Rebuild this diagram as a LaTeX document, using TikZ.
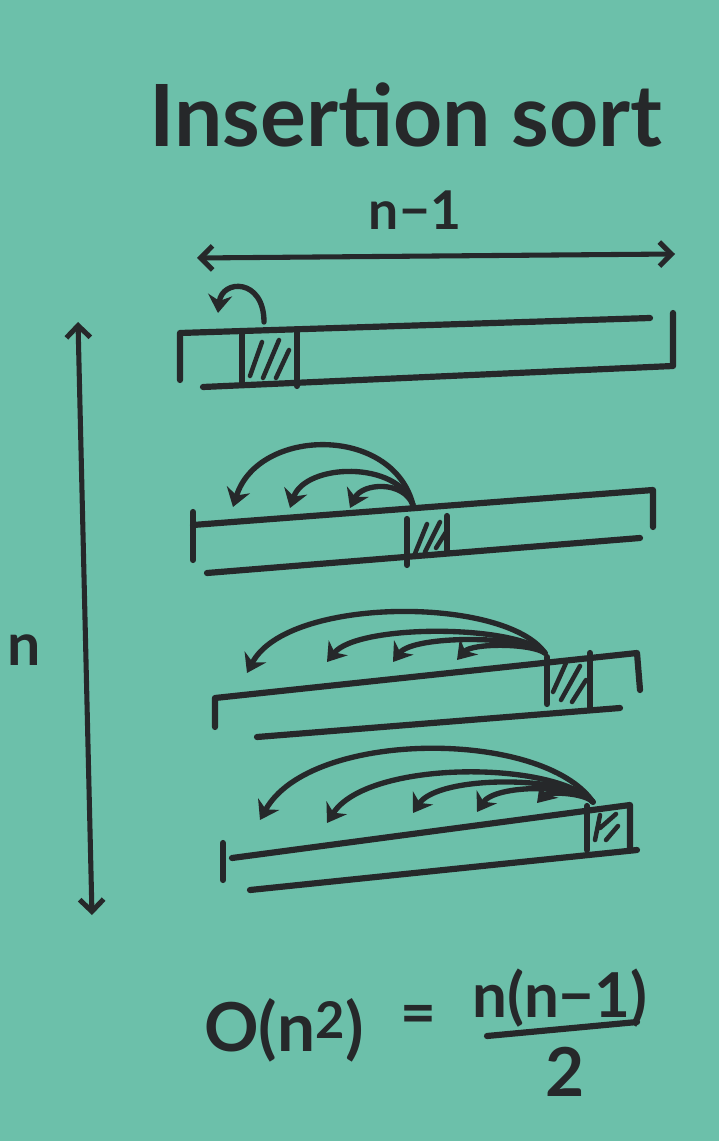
\documentclass[tikz,border=0pt]{standalone}
\usepackage{fontspec}
\setmainfont{Lato}
\usetikzlibrary{arrows.meta}
\definecolor{paper}{RGB}{108,192,170}
\definecolor{ink}{RGB}{38,40,42}

\begin{document}
\begin{tikzpicture}[
  x=0.025cm, y=-0.025cm,
  pen/.style={draw=ink, line width=4.4pt, line cap=round, line join=round},
  hatch/.style={draw=ink, line width=3.2pt, line cap=round},
  hop/.style={pen, line width=3.8pt, -{Stealth[length=4.5mm,width=6mm]}},
  span/.style={pen, line width=3.6pt, {Straight Barb[length=3mm,width=6mm]}-{Straight Barb[length=3mm,width=6mm]}},
  lbl/.style={text=ink, inner sep=0pt, font=\bfseries}
]
\fill[paper] (0,0) rectangle (719,1141);
\useasboundingbox (0,0) rectangle (719,1141);

\node[lbl, font=\fontsize{61}{66}\selectfont\bfseries] (title) at (406,115) {Insertion sort};
\node[lbl, font=\fontsize{38}{44}\selectfont\bfseries] (len) at (415,210) {n−1};
\node[lbl, font=\fontsize{42}{48}\selectfont\bfseries] (rows) at (24,650) {n};

\coordinate (la) at (197,258);
\coordinate (ra) at (675,254);
\coordinate (ta) at (78,322);
\coordinate (ba) at (92,915);
\draw[span] (la) -- (ra);
\draw[span] (ta) -- (ba);

\draw[pen] (180,380) -- (180,333) -- (650,318);
\draw[pen] (203,387) -- (673,366) -- (673,313);
\draw[pen] (242,333) -- (242,383);
\draw[pen] (297,331) -- (297,386);
\draw[hatch] (250,376) -- (262,342) (263,378) -- (279,340) (276,378) -- (289,350);
\coordinate (s1) at (264,322);
\coordinate (t1) at (218,313);
\draw[hop] (s1) .. controls +(0,-44) and +(4,-34) .. (t1);

\draw[pen] (193,560) -- (193,512);
\draw[pen] (193,525) -- (653,490) -- (653,527);
\draw[pen] (207,573) -- (640,538);
\draw[pen] (407,519) -- (407,565);
\draw[pen] (447,516) -- (447,552);
\draw[hatch] (414,556) -- (427,524) (425,552) -- (440,522) (436,548) -- (446,532);
\coordinate (s2) at (413,505);
\coordinate (t21) at (233,507);
\coordinate (t22) at (290,508);
\coordinate (t23) at (350,508);
\draw[hop] (s2) .. controls +(-20,-80) and +(25,-80) .. (t21);
\draw[hop] (s2) .. controls +(-15,-45) and +(15,-45) .. (t22);
\draw[hop] (s2) .. controls +(-10,-25) and +(12,-25) .. (t23);

\draw[pen] (215,727) -- (215,698) -- (637,653) -- (640,690);
\draw[pen] (257,737) -- (620,708);
\draw[pen] (547,657) -- (547,704);
\draw[pen] (590,653) -- (590,708);
\draw[hatch] (553,692) -- (566,663) (561,700) -- (580,666) (572,702) -- (586,680);
\coordinate (s3) at (545,653);
\coordinate (t31) at (247,673);
\coordinate (t32) at (327,662);
\coordinate (t33) at (393,662);
\coordinate (t34) at (457,660);
\draw[hop] (s3) .. controls +(-40,-57) and +(40,-77) .. (t31);
\draw[hop] (s3) .. controls +(-30,-29) and +(30,-38) .. (t32);
\draw[hop] (s3) .. controls +(-20,-18) and +(20,-27) .. (t33);
\draw[hop] (s3) .. controls +(-15,-10) and +(15,-17) .. (t34);

\draw[pen] (223,880) -- (223,843);
\draw[pen] (232,858) -- (630,805) -- (630,850);
\draw[pen] (587,806) -- (587,850);
\draw[pen] (250,890) -- (637,850);
\draw[hatch] (595,840) -- (600,815) (600,828) -- (616,814) (606,840) -- (618,826);
\coordinate (s4) at (593,802);
\coordinate (t41) at (260,820);
\coordinate (t42) at (327,823);
\coordinate (t43) at (413,813);
\coordinate (t44) at (477,812);
\coordinate (t45) at (537,803);
\draw[hop] (s4) .. controls +(-50,-73) and +(50,-91) .. (t41);
\draw[hop] (s4) .. controls +(-40,-42) and +(40,-63) .. (t42);
\draw[hop] (s4) .. controls +(-25,-27) and +(25,-38) .. (t43);
\draw[hop] (s4) .. controls +(-15,-18) and +(18,-28) .. (t44);
\draw[hop] (s4) .. controls +(-10,-10) and +(10,-11) .. (t45);

\node[lbl, font=\fontsize{48}{54}\selectfont\bfseries] (bigo) at (284,1030) {O(n\textsuperscript{\fontsize{36}{40}\selectfont 2})};
\node[lbl, font=\fontsize{44}{50}\selectfont\bfseries] (eq) at (418,1020) {=};
\node[lbl, font=\fontsize{44}{50}\selectfont\bfseries] (num) at (560,998) {n(n−1)};
\coordinate (bl) at (487,1036);
\coordinate (br) at (637,1022);
\draw[pen] (bl) -- (br);
\node[lbl, font=\fontsize{48}{54}\selectfont\bfseries] (den) at (565,1072) {2};
\end{tikzpicture}
\end{document}
